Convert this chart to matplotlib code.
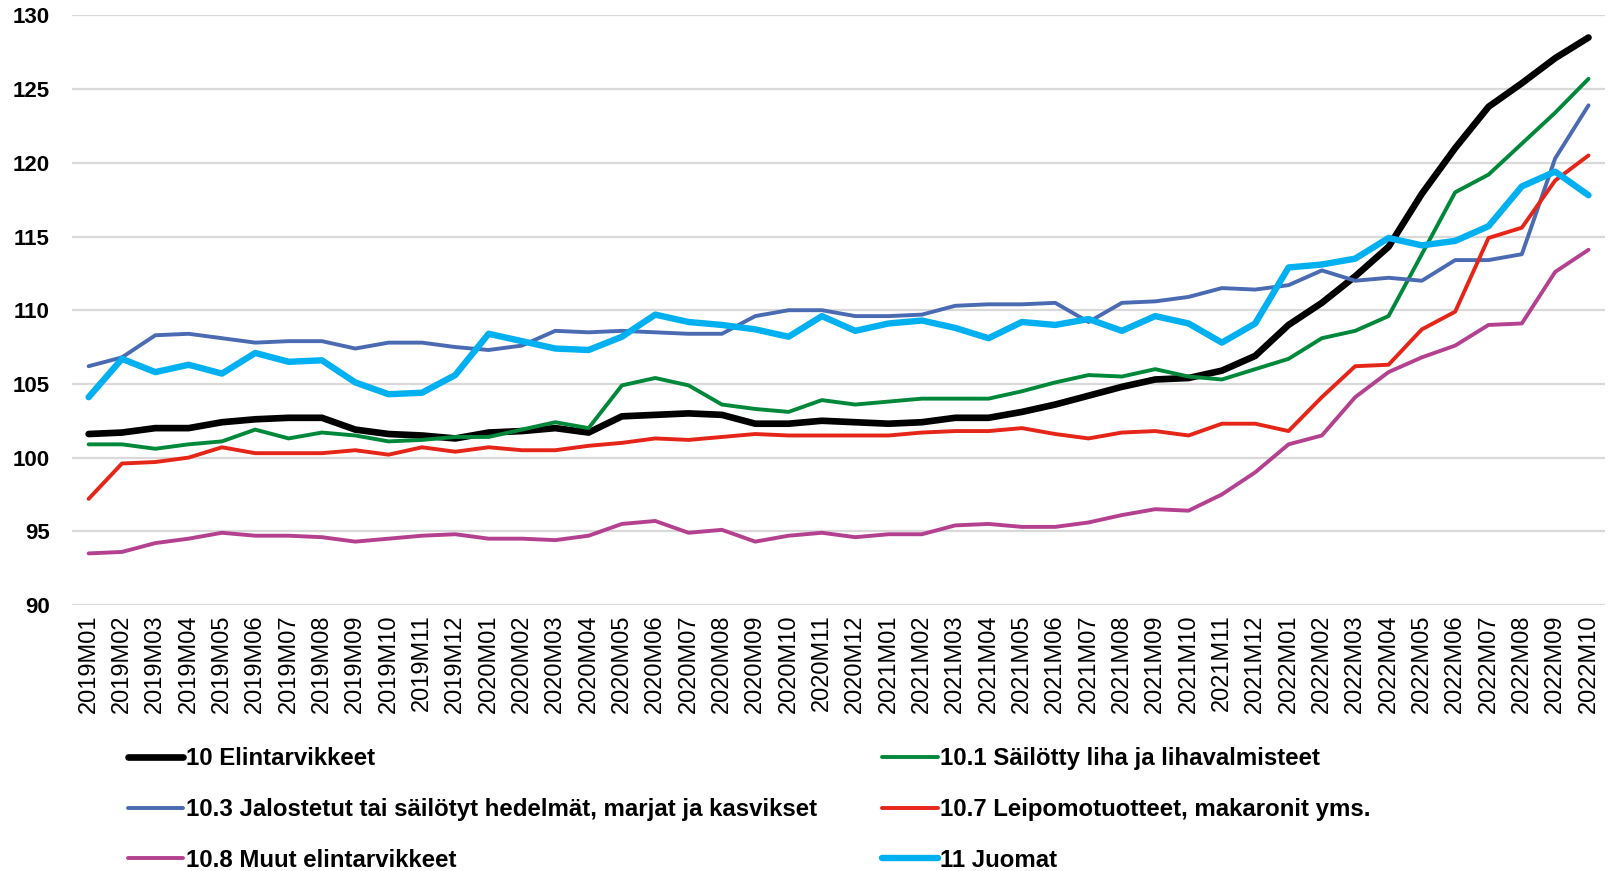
import matplotlib
matplotlib.use("Agg")
import matplotlib.pyplot as plt

# =========================
# DATA
# =========================

months = [f"{y}M{m:02d}" for y in (2019, 2020, 2021) for m in range(1, 13)]
months += [f"2022M{m:02d}" for m in range(1, 11)]

food = [101.6, 101.7, 102.0, 102.0, 102.4, 102.6, 102.7, 102.7, 101.9, 101.6, 101.5, 101.3,
        101.7, 101.8, 102.0, 101.7, 102.8, 102.9, 103.0, 102.9, 102.3, 102.3, 102.5, 102.4,
        102.3, 102.4, 102.7, 102.7, 103.1, 103.6, 104.2, 104.8, 105.3, 105.4, 105.9, 106.9,
        109.0, 110.5, 112.3, 114.3, 117.9, 121.0, 123.8, 125.4, 127.1, 128.5]

meat = [100.9, 100.9, 100.6, 100.9, 101.1, 101.9, 101.3, 101.7, 101.5, 101.1, 101.2, 101.4,
        101.4, 101.9, 102.4, 102.0, 104.9, 105.4, 104.9, 103.6, 103.3, 103.1, 103.9, 103.6,
        103.8, 104.0, 104.0, 104.0, 104.5, 105.1, 105.6, 105.5, 106.0, 105.5, 105.3, 106.0,
        106.7, 108.1, 108.6, 109.6, 113.8, 118.0, 119.2, 121.3, 123.4, 125.7]

fruit_veg = [106.2, 106.8, 108.3, 108.4, 108.1, 107.8, 107.9, 107.9, 107.4, 107.8, 107.8, 107.5,
             107.3, 107.6, 108.6, 108.5, 108.6, 108.5, 108.4, 108.4, 109.6, 110.0, 110.0, 109.6,
             109.6, 109.7, 110.3, 110.4, 110.4, 110.5, 109.2, 110.5, 110.6, 110.9, 111.5, 111.4,
             111.7, 112.7, 112.0, 112.2, 112.0, 113.4, 113.4, 113.8, 120.3, 123.9]

bakery = [97.2, 99.6, 99.7, 100.0, 100.7, 100.3, 100.3, 100.3, 100.5, 100.2, 100.7, 100.4,
          100.7, 100.5, 100.5, 100.8, 101.0, 101.3, 101.2, 101.4, 101.6, 101.5, 101.5, 101.5,
          101.5, 101.7, 101.8, 101.8, 102.0, 101.6, 101.3, 101.7, 101.8, 101.5, 102.3, 102.3,
          101.8, 104.1, 106.2, 106.3, 108.7, 109.9, 114.9, 115.6, 118.8, 120.5]

other_food = [93.5, 93.6, 94.2, 94.5, 94.9, 94.7, 94.7, 94.6, 94.3, 94.5, 94.7, 94.8,
              94.5, 94.5, 94.4, 94.7, 95.5, 95.7, 94.9, 95.1, 94.3, 94.7, 94.9, 94.6,
              94.8, 94.8, 95.4, 95.5, 95.3, 95.3, 95.6, 96.1, 96.5, 96.4, 97.5, 99.0,
              100.9, 101.5, 104.1, 105.8, 106.8, 107.6, 109.0, 109.1, 112.6, 114.1]

drinks = [104.1, 106.7, 105.8, 106.3, 105.7, 107.1, 106.5, 106.6, 105.1, 104.3, 104.4, 105.6,
          108.4, 107.9, 107.4, 107.3, 108.2, 109.7, 109.2, 109.0, 108.7, 108.2, 109.6, 108.6,
          109.1, 109.3, 108.8, 108.1, 109.2, 109.0, 109.4, 108.6, 109.6, 109.1, 107.8, 109.1,
          112.9, 113.1, 113.5, 114.9, 114.4, 114.7, 115.7, 118.4, 119.4, 117.8]

series = [
    ("10 Elintarvikkeet", food, "#000000", 4.8),
    ("10.1 Säilötty liha ja lihavalmisteet", meat, "#00883A", 2.8),
    ("10.3 Jalostetut tai säilötyt hedelmät, marjat ja kasvikset", fruit_veg, "#4A6AB2", 2.8),
    ("10.7 Leipomotuotteet, makaronit yms.", bakery, "#E42518", 2.8),
    ("10.8 Muut elintarvikkeet", other_food, "#B4418F", 2.8),
    ("11 Juomat", drinks, "#00B0F0", 4.6),
]

# =========================
# PLOT
# =========================

plt.rcParams["font.family"] = ["Liberation Sans", "DejaVu Sans"]

fig = plt.figure(figsize=(16.1, 8.71), dpi=100)
ax = fig.add_axes([0.0447, 0.3054, 0.9523, 0.6769])

x = list(range(len(months)))
lines = {}
for name, values, color, lw in series:
    (ln,) = ax.plot(x, values, color=color, linewidth=lw, label=name,
                    solid_capstyle="round", solid_joinstyle="round", zorder=3)
    lines[name] = ln

ax.set_xlim(-0.5, len(months) - 0.5)
ax.set_ylim(90, 130)
ax.set_yticks(range(90, 131, 5))
ax.set_xticks(x)
ax.set_xticklabels(months, rotation=90, fontsize=17)
ax.tick_params(axis="y", labelsize=16, length=0, pad=16)
ax.tick_params(axis="x", length=0, pad=7)
for lbl in ax.get_yticklabels():
    lbl.set_fontweight("bold")

ax.grid(axis="y", color="#D9D9D9", linewidth=1.6, zorder=0)
for s in ax.spines.values():
    s.set_visible(False)

# =========================
# LEGEND (two columns)
# =========================

names = [s[0] for s in series]
left_col = [names[0], names[2], names[4]]
right_col = [names[1], names[3], names[5]]

legend_kw = dict(loc="upper left", frameon=False, borderpad=0, borderaxespad=0,
                 handlelength=2.3, handletextpad=0.1, labelspacing=1.15,
                 prop={"weight": "bold", "size": 17.3})

leg1 = fig.legend([lines[n] for n in left_col], left_col,
                  bbox_to_anchor=(0.0795, 0.142), **legend_kw)
leg2 = fig.legend([lines[n] for n in right_col], right_col,
                  bbox_to_anchor=(0.548, 0.142), **legend_kw)

fig.savefig("out.png", dpi=100)
